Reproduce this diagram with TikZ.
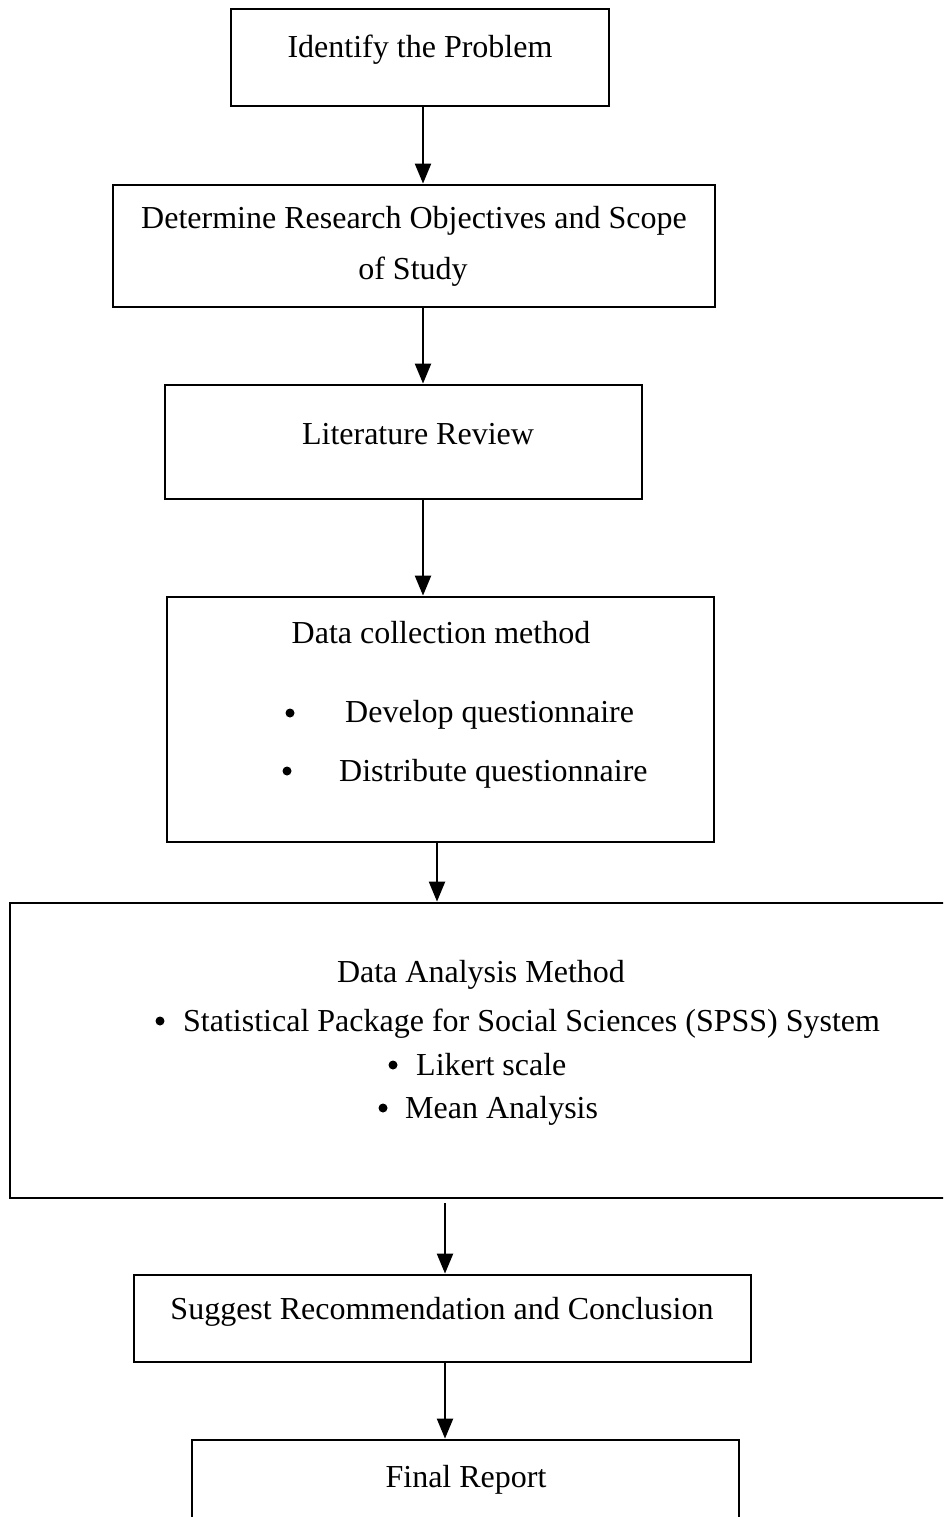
\documentclass[tikz,border=0pt]{standalone}
\usepackage{fontspec}
\setmainfont{Liberation Serif}
\usetikzlibrary{arrows.meta}
\begin{document}
\begin{tikzpicture}[x=1pt,y=-1pt,
  box/.style={draw=black, line width=2.8pt, rectangle, inner sep=0pt},
  txt/.style={inner sep=0pt, font=\fontsize{32}{38}\selectfont, anchor=base},
  ltxt/.style={inner sep=0pt, font=\fontsize{32}{38}\selectfont, anchor=base west},
  arr/.style={line width=2.2pt, -{Triangle[width=16pt,length=20pt]}},
  bul/.style={fill=black}
]
\useasboundingbox (0,0) rectangle (943,1517);
\clip (0,0) rectangle (943,1517);

% boxes
\node[box, minimum width=378pt, minimum height=97pt] (b1) at (420,57.5) {};
\node[box, minimum width=602pt, minimum height=122pt] (b2) at (414,246) {};
\node[box, minimum width=477pt, minimum height=114pt] (b3) at (403.5,442) {};
\node[box, minimum width=547pt, minimum height=245pt] (b4) at (440.5,719.5) {};
\node[box, minimum width=960pt, minimum height=295pt] (b5) at (490,1050.5) {};
\node[box, minimum width=617pt, minimum height=87pt] (b6) at (442.5,1318.5) {};
\node[box, minimum width=547pt, minimum height=130pt] (b7) at (465.5,1505) {};

% texts
\node[txt] (t1) at (420,58) {Identify the Problem};
\node[txt] (t2a) at (414,228) {Determine Research Objectives and Scope};
\node[txt] (t2b) at (413,279) {of Study};
\node[txt] (t3) at (418,444) {Literature Review};
\node[txt] (t4) at (441,643) {Data collection method};
\node[ltxt] (t4a) at (345,722) {Develop questionnaire};
\node[ltxt] (t4b) at (339,781) {Distribute questionnaire};
\node[txt] (t5) at (481,982) {Data Analysis Method};
\node[ltxt] (t5a) at (183,1031) {Statistical Package for Social Sciences (SPSS) System};
\node[ltxt] (t5b) at (416,1075) {Likert scale};
\node[ltxt] (t5c) at (405,1118) {Mean Analysis};
\node[txt] (t6) at (442,1319) {Suggest Recommendation and Conclusion};
\node[txt] (t7) at (466,1487) {Final Report};

% bullets
\fill[bul] (290,713) circle (4.5pt);
\fill[bul] (287,771) circle (4.5pt);
\fill[bul] (160,1021) circle (4.5pt);
\fill[bul] (393,1065) circle (4.5pt);
\fill[bul] (383,1108) circle (4.5pt);

% connector x positions
\coordinate (x1) at (423,0);
\coordinate (x4) at (437,0);
\coordinate (x5) at (445,0);

\draw[arr] (b1.south -| x1) -- (b2.north -| x1);
\draw[arr] (b2.south -| x1) -- (b3.north -| x1);
\draw[arr] (b3.south -| x1) -- (b4.north -| x1);
\draw[arr] (b4.south -| x4) -- (b5.north -| x4);
\draw[arr, shorten <=4pt] (b5.south -| x5) -- (b6.north -| x5);
\draw[arr] (b6.south -| x5) -- (b7.north -| x5);
\end{tikzpicture}
\end{document}
